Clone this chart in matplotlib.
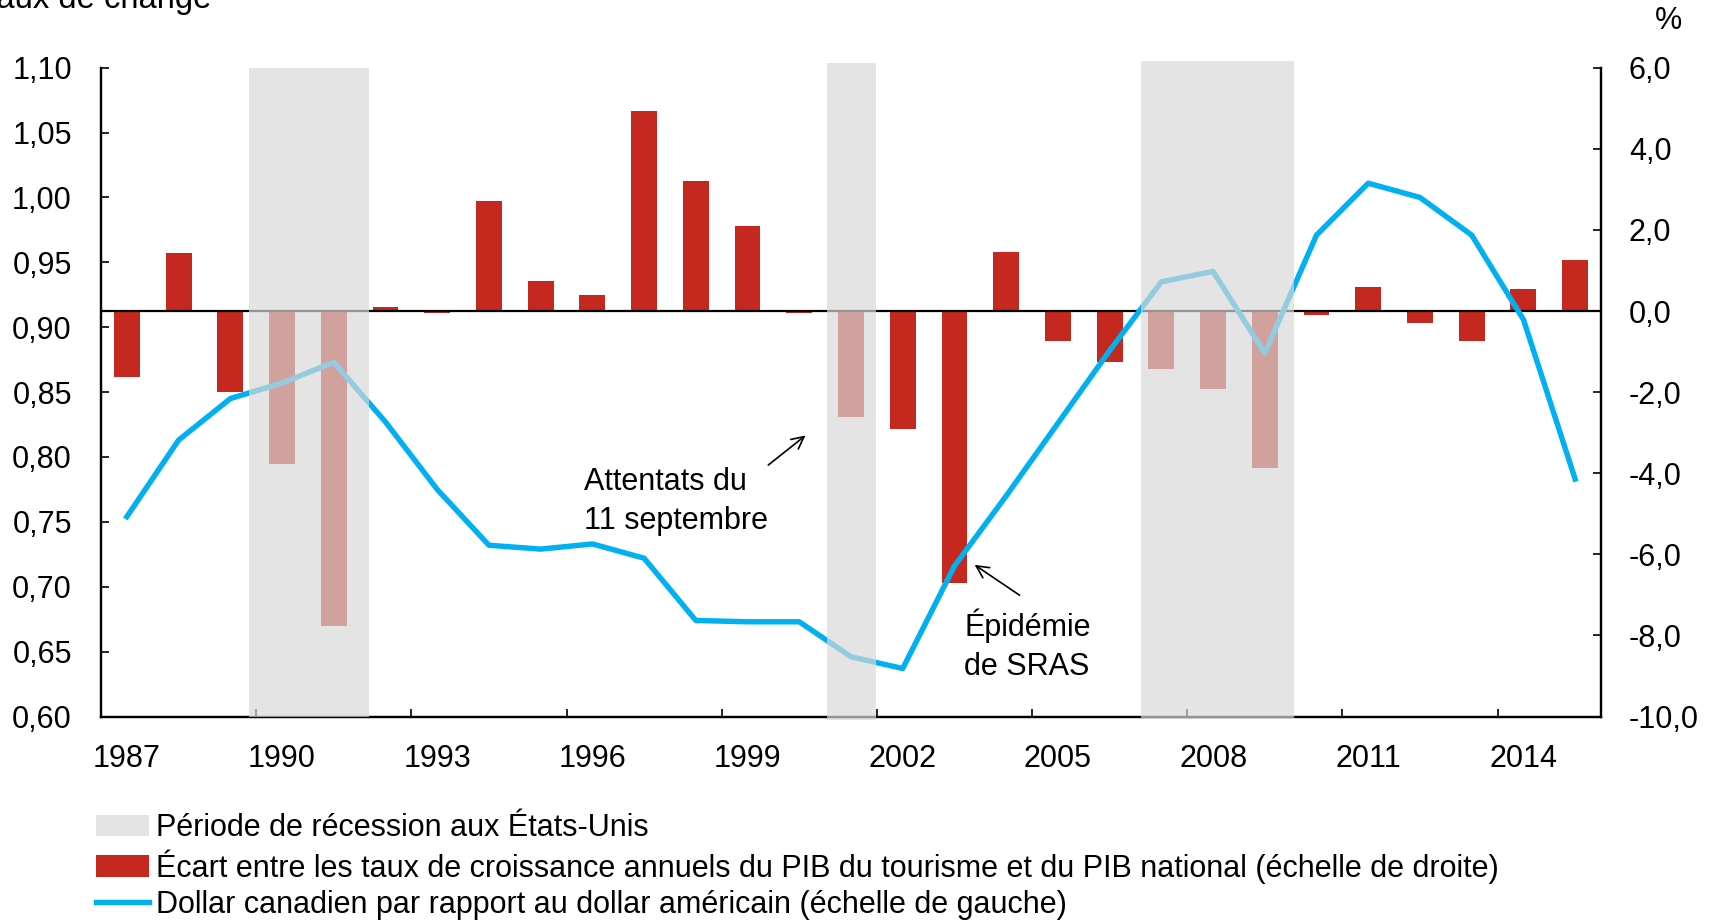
import matplotlib as mpl
import matplotlib.pyplot as plt
import numpy as np
from matplotlib.lines import Line2D
from matplotlib.patches import Patch


# --- Data ---
years = list(range(1987, 2016))

# Dollar canadien en dollars US (échelle de gauche)
cad_usd = [0.754, 0.813, 0.845, 0.857, 0.873, 0.827, 0.775, 0.732, 0.729, 0.733,
           0.722, 0.674, 0.673, 0.673, 0.646, 0.637, 0.716, 0.770, 0.826, 0.882,
           0.935, 0.943, 0.880, 0.971, 1.011, 1.000, 0.971, 0.906, 0.783]

# Écart de croissance PIB tourisme - PIB national, en % (échelle de droite)
gap_pct = [-1.62, 1.43, -2.00, -3.77, -7.77, 0.09, -0.04, 2.71, 0.73, 0.40,
           4.92, 3.21, 2.10, -0.06, -2.61, -2.92, -6.72, 1.46, -0.75, -1.25,
           -1.43, -1.92, -3.87, -0.11, 0.58, -0.29, -0.75, 0.55, 1.25]

# Récessions aux États-Unis (en années, repère centré sur les barres)
rec_start = [1989.36, 2000.54, 2006.61]
rec_end = [1991.68, 2001.49, 2009.56]

left_ticks = [0.60, 0.65, 0.70, 0.75, 0.80, 0.85, 0.90, 0.95, 1.00, 1.05, 1.10]
left_labels = ["0,60", "0,65", "0,70", "0,75", "0,80", "0,85", "0,90", "0,95",
               "1,00", "1,05", "1,10"]
right_ticks = [-10, -8, -6, -4, -2, 0, 2, 4, 6]
right_labels = ["-10,0", "-8,0", "-6,0", "-4,0", "-2,0", "0,0", "2,0", "4,0", "6,0"]
year_labels = ["1987", "1990", "1993", "1996", "1999", "2002", "2005", "2008",
               "2011", "2014"]

PALETTE = {
    "bar": "#C4281F",
    "line": "#00B0F0",
    "shade": "#D8D8D8",
    "legend_shade": "#E4E4E4",
}

FS = 22

mpl.rcParams.update({
    "font.family": ["Liberation Sans", "DejaVu Sans"],
    "font.size": FS,
})

fig = plt.figure(figsize=(17.21, 9.21), dpi=100)
W, H = 1721, 921
L, R, T, B = 101, 1601, 67.7, 716.5
ax2 = fig.add_axes([L / W, 1 - B / H, (R - L) / W, (B - T) / H])
ax = ax2.twinx()
# line axis on top, bars below
ax.yaxis.tick_left()
ax2.yaxis.tick_right()
ax.set_zorder(ax2.get_zorder() + 1)
ax.patch.set_visible(False)

x = np.arange(len(years))
x0 = years[0]

# Bars (right scale)
ax2.bar(x, gap_pct, width=0.5, color=PALETTE["bar"], zorder=2)
ax2.axhline(0, color="black", linewidth=1.6, zorder=3)
ax2.set_ylim(-10, 6)
ax2.set_yticks(right_ticks)
ax2.set_yticklabels(right_labels)

# Exchange rate line (left scale)
ax.plot(x, cad_usd, color=PALETTE["line"], linewidth=3.9,
        solid_joinstyle="round", zorder=3)
ax.set_ylim(0.60, 1.10)
ax.set_yticks(left_ticks)
ax.set_yticklabels(left_labels)

# Recession shading over everything (semi-transparent)
span_lims = [(0.0, 1.0), (-0.005, 1.008), (-0.002, 1.011)]
for s, e, (lo, hi) in zip(rec_start, rec_end, span_lims):
    ax.axvspan(s - x0, e - x0, ymin=lo, ymax=hi, facecolor=PALETTE["shade"],
               alpha=0.69, linewidth=0, zorder=5, clip_on=False)

ax.set_xlim(-0.5, len(years) - 0.5)
label_pos = [years.index(int(y)) for y in year_labels]
ax2.set_xticks(label_pos)
ax2.set_xticklabels(year_labels)
ax2.set_xticks([p - 0.5 for p in label_pos[1:]], minor=True)
ax2.tick_params(axis="x", which="major", length=0, pad=20)
ax2.tick_params(axis="x", which="minor", direction="in", length=6, width=1.2)

ax.tick_params(axis="y", direction="in", length=6, width=1.2, pad=21,
               left=True, right=False, labelleft=True, labelright=False)
ax2.tick_params(axis="y", direction="in", length=6, width=1.2, pad=20,
                left=False, right=True, labelleft=False, labelright=True)

for a in (ax, ax2):
    a.spines["top"].set_visible(False)
    for side in ("left", "right", "bottom"):
        a.spines[side].set_linewidth(1.6)

# Annotations
ax2.text(8.84, -4.70, "Attentats du\n11 septembre", ha="left", va="center",
         fontsize=FS, linespacing=1.42)
ax2.annotate("", xy=(13.12, -3.07), xytext=(12.40, -3.80),
             arrowprops=dict(arrowstyle="->", color="black", lw=1.2,
                             shrinkA=0, shrinkB=0))
ax2.annotate("", xy=(16.39, -6.26), xytext=(17.26, -7.01),
             arrowprops=dict(arrowstyle="->", color="black", lw=1.2,
                             shrinkA=0, shrinkB=0))
ax2.text(16.19, -8.24, "Épidémie\nde SRAS", ha="left", va="center",
         fontsize=FS, linespacing=1.42)

# Axis titles (the left one is cut by the figure edge, as in the source)
fig.text(-20 / W, 1 - 8 / H, "Taux de change", ha="left", va="baseline", fontsize=23.6)
fig.text(1668 / W, 1 - 21 / H, "%", ha="center", va="center", fontsize=FS)

# Legend
handles = [
    Patch(facecolor=PALETTE["legend_shade"], edgecolor="none"),
    Patch(facecolor=PALETTE["bar"], edgecolor="none"),
    Line2D([0], [0], color=PALETTE["line"], linewidth=3.9),
]
labels = [
    "Période de récession aux États-Unis",
    "Écart entre les taux de croissance annuels du PIB du tourisme et du PIB national (échelle de droite)",
    "Dollar canadien par rapport au dollar américain (échelle de gauche)",
]
fig.legend(handles, labels, loc="upper left", bbox_to_anchor=(96 / W, 1 - 813 / H),
           frameon=False, fontsize=22, borderpad=0, borderaxespad=0,
           handlelength=1.73, handletextpad=0.22, labelspacing=0.2)

fig.savefig("out.png", dpi=100)
